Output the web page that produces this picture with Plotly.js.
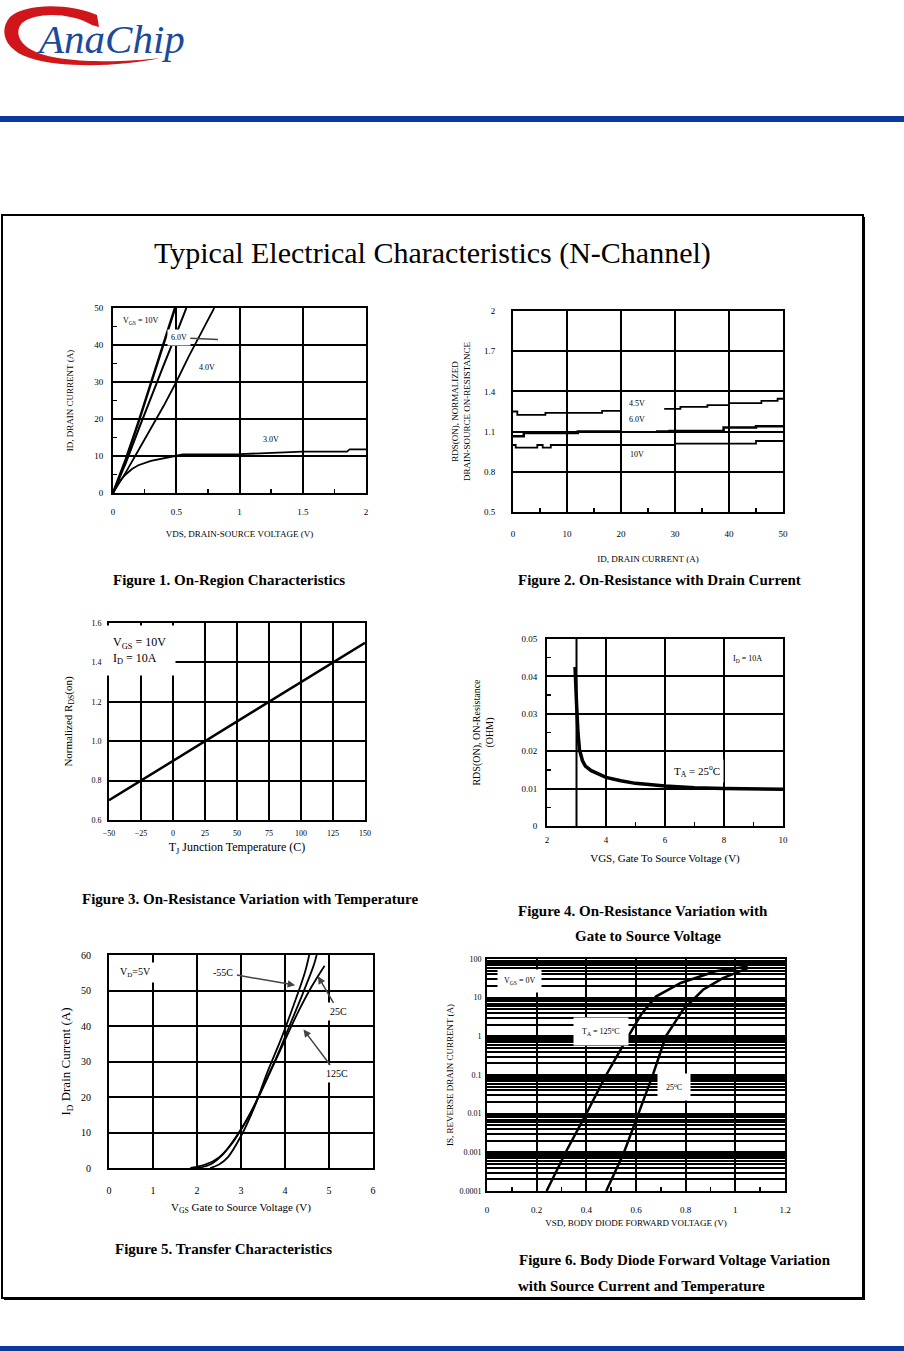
<!DOCTYPE html>
<html><head><meta charset="utf-8">
<script src="https://cdn.plot.ly/plotly-3.0.1.min.js"></script>
<style>html,body{margin:0;padding:0;background:#fff}#chart{width:904px;height:1351px}</style>
</head><body><div id="chart"></div>
<script>
// ---------- Figure 1: On-Region Characteristics ----------
const f1_vds_10V = [0, 0.05, 0.1, 0.2, 0.3, 0.4, 0.49];
const f1_id_10V  = [0, 4.5, 9, 19, 29.5, 40, 50];
const f1_vds_6V  = [0, 0.05, 0.1, 0.2, 0.3, 0.4, 0.5, 0.58];
const f1_id_6V   = [0, 4, 8, 17, 26, 34.5, 43, 50];
const f1_vds_4V  = [0, 0.1, 0.2, 0.3, 0.4, 0.5, 0.6, 0.7, 0.8];
const f1_id_4V   = [0, 5.5, 11.5, 17.5, 23.5, 30, 37, 43.5, 50];
const f1_vds_3V  = [0, 0.03, 0.06, 0.1, 0.15, 0.2, 0.3, 0.4, 0.45, 0.55, 1.0, 1.5, 1.85, 1.87, 2.0];
const f1_id_3V   = [0, 2, 3.5, 5, 6.5, 7.5, 8.7, 9.4, 9.7, 10.4, 10.5, 11.2, 11.2, 11.8, 11.8];

// ---------- Figure 2: On-Resistance with Drain Current ----------
const f2_id_45V = [0, 0.8, 6, 16.5, 20, null, 28, 31, 36, 40, 46, 49, 50];
const f2_r_45V  = [1.25, 1.225, 1.24, 1.255, 1.255, null, 1.27, 1.285, 1.297, 1.313, 1.33, 1.345, 1.345];
const f2_id_6V  = [0, 2, 12, 20, null, 26.5, 29, 39, 45, 50];
const f2_r_6V   = [1.065, 1.09, 1.1, 1.1, null, 1.1, 1.105, 1.13, 1.14, 1.14];
const f2_id_10V = [0, 0.5, 4.5, 5.5, 7, 30, 45, 50];
const f2_r_10V  = [1.0, 0.98, 1.0, 0.98, 1.0, 1.01, 1.03, 1.03];

// ---------- Figure 3: On-Resistance vs Temperature ----------
const f3_temp = [-50, -25, 0, 25, 50, 75, 100, 125, 150];
const f3_rnorm = [0.7, 0.8, 0.9, 1.0, 1.1, 1.2, 1.3, 1.4, 1.5];

// ---------- Figure 4: On-Resistance vs Gate Voltage ----------
const f4_vgs = [2.95, 2.97, 3.0, 3.05, 3.1, 3.2, 3.3, 3.5, 3.75, 4, 4.5, 5, 6, 7, 8, 9, 10];
const f4_rds = [0.0425, 0.037, 0.033, 0.025, 0.0205, 0.0175, 0.016, 0.0148, 0.0138, 0.013, 0.0121, 0.0114, 0.0107, 0.0102, 0.0100, 0.0099, 0.0098];

// ---------- Figure 5: Transfer Characteristics ----------
const f5_vgs_m55 = [2.3, 2.5, 2.7, 3.0, 3.3, 3.6, 3.9, 4.2, 4.45, 4.55];
const f5_id_m55  = [0, 1, 3, 9, 17, 27, 36, 46, 55, 60];
const f5_vgs_25  = [2.0, 2.3, 2.6, 2.9, 3.2, 3.5, 3.8, 4.1, 4.4, 4.65, 4.72];
const f5_id_25   = [0, 1, 4, 9, 15, 23, 31, 40, 49, 57, 60];
const f5_vgs_125 = [1.85, 2.2, 2.5, 2.8, 3.1, 3.4, 3.7, 4.0, 4.3, 4.6, 4.9];
const f5_id_125  = [0, 1, 3, 7, 13, 20, 28, 36, 44, 51, 57];

// ---------- Figure 6: Body Diode Forward Voltage ----------
const f6_vsd_125 = [0.24, 0.32, 0.40, 0.48, 0.56, 0.62, 0.68, 0.78, 0.92, 1.05];
const f6_is_125  = [0.0001, 0.0011, 0.01, 0.1, 0.8, 3.6, 10.7, 24, 48, 64];
const f6_vsd_25  = [0.48, 0.55, 0.61, 0.67, 0.72, 0.79, 0.87, 0.95, 1.05];
const f6_is_25   = [0.0001, 0.00093, 0.01, 0.11, 1.0, 4.9, 16, 32, 58];
const f6_decades = [0.0001, 0.001, 0.01, 0.1, 1, 10, 100];
const f6_decade_labels = ['0.0001', '0.001', '0.01', '0.1', '1', '10', '100'];

const W = 904, H = 1351;
const F = 'Liberation Serif, Times New Roman, serif';
const xd = (l, r) => [l / W, r / W];
const yd = (t, b) => [1 - b / H, 1 - t / H];
const px = x => x / W;
const py = y => 1 - y / H;

function axis(extra) {
  return Object.assign({
    showline: true, linecolor: '#000', linewidth: 2, mirror: true,
    showgrid: true, gridcolor: '#000', gridwidth: 2, zeroline: false,
    ticks: 'inside', ticklen: 4, tickwidth: 1.5, tickcolor: '#000',
    tickfont: {family: F, size: 9, color: '#000'},
    fixedrange: true, automargin: false
  }, extra);
}
function ttl(text, size, standoff) {
  return {text: text, font: {family: F, size: size, color: '#000'}, standoff: standoff};
}

// intermediate digits of each decade: minor grid lines of the log axis
const f6_minorvals = [];
f6_decades.slice(0, -1).forEach(d => { for (let k = 2; k <= 9; k++) f6_minorvals.push(d * k); });

const line = (w) => ({color: '#000', width: w});
const traces = [
  {x: f1_vds_10V, y: f1_id_10V, xaxis: 'x', yaxis: 'y', mode: 'lines', line: line(2.5), name: '10V'},
  {x: f1_vds_6V, y: f1_id_6V, xaxis: 'x', yaxis: 'y', mode: 'lines', line: line(2), name: '6.0V'},
  {x: f1_vds_4V, y: f1_id_4V, xaxis: 'x', yaxis: 'y', mode: 'lines', line: line(1.8), name: '4.0V'},
  {x: f1_vds_3V, y: f1_id_3V, xaxis: 'x', yaxis: 'y', mode: 'lines', line: line(1.8), name: '3.0V'},

  {x: f2_id_45V, y: f2_r_45V, xaxis: 'x2', yaxis: 'y2', mode: 'lines', line: Object.assign(line(1.8), {shape: 'hv'}), connectgaps: false, name: '4.5V'},
  {x: f2_id_6V, y: f2_r_6V, xaxis: 'x2', yaxis: 'y2', mode: 'lines', line: Object.assign(line(2.5), {shape: 'hv'}), connectgaps: false, name: '6.0V'},
  {x: f2_id_10V, y: f2_r_10V, xaxis: 'x2', yaxis: 'y2', mode: 'lines', line: Object.assign(line(1.8), {shape: 'hv'}), name: '10V'},

  {x: f3_temp, y: f3_rnorm, xaxis: 'x3', yaxis: 'y3', mode: 'lines', line: line(2.5), name: 'Rnorm'},

  {x: f4_vgs, y: f4_rds, xaxis: 'x4', yaxis: 'y4', mode: 'lines', line: line(3.5), name: 'RDS'},

  {x: f5_vgs_m55, y: f5_id_m55, xaxis: 'x5', yaxis: 'y5', mode: 'lines', line: Object.assign(line(1.8), {shape: 'spline'}), name: '-55C'},
  {x: f5_vgs_25, y: f5_id_25, xaxis: 'x5', yaxis: 'y5', mode: 'lines', line: Object.assign(line(1.8), {shape: 'spline'}), name: '25C'},
  {x: f5_vgs_125, y: f5_id_125, xaxis: 'x5', yaxis: 'y5', mode: 'lines', line: Object.assign(line(1.8), {shape: 'spline'}), name: '125C'},

  {x: f6_vsd_125, y: f6_is_125, xaxis: 'x6', yaxis: 'y6', mode: 'lines', line: line(2.5), name: '125C'},
  {x: f6_vsd_25, y: f6_is_25, xaxis: 'x6', yaxis: 'y6', mode: 'lines', line: line(2.5), name: '25C'}
];

const layout = {
  width: W, height: H, showlegend: false,
  margin: {l: 0, r: 0, t: 0, b: 0},
  paper_bgcolor: '#fff', plot_bgcolor: 'rgba(0,0,0,0)',
  font: {family: F, color: '#000'},

  // Figure 1
  xaxis: axis({domain: xd(113, 366), anchor: 'y', range: [0, 2], dtick: 0.5, ticklabelstandoff: 9,
    minor: {dtick: 0.25, ticks: 'inside', ticklen: 4, tickcolor: '#000', showgrid: false},
    title: ttl('VDS, DRAIN-SOURCE VOLTAGE (V)', 9, 15)}),
  yaxis: axis({domain: yd(308, 493), anchor: 'x', range: [0, 50], dtick: 10, ticklabelstandoff: 6,
    minor: {dtick: 5, ticks: 'inside', ticklen: 4, tickcolor: '#000', showgrid: false},
    title: ttl('ID, DRAIN CURRENT (A)', 9, 19)}),

  // Figure 2
  xaxis2: axis({domain: xd(513, 783), anchor: 'y2', range: [0, 50], dtick: 10, ticklabelstandoff: 12,
    minor: {dtick: 5, ticks: 'inside', ticklen: 4, tickcolor: '#000', showgrid: false},
    title: ttl('ID, DRAIN CURRENT (A)', 9, 18)}),
  yaxis2: axis({domain: yd(311, 512), anchor: 'x2', range: [0.5, 2], tick0: 0.5, dtick: 0.3, ticklabelstandoff: 14,
    title: ttl('RDS(ON), NORMALIZED<br>DRAIN-SOURCE ON-RESISTANCE', 9, 12)}),

  // Figure 3
  xaxis3: axis({domain: xd(109, 365), anchor: 'y3', range: [-50, 150], dtick: 25, ticklabelstandoff: 4,
    tickfont: {family: F, size: 8, color: '#000'},
    title: ttl('T<sub>J</sub> Junction Temperature (C)', 12, 6)}),
  yaxis3: axis({domain: yd(623, 820), anchor: 'x3', range: [0.6, 1.6], dtick: 0.2, tickformat: '.1f', ticklabelstandoff: 4,
    tickfont: {family: F, size: 8, color: '#000'},
    title: ttl('Normalized R<sub>DS</sub>(on)', 11, 17)}),

  // Figure 4
  xaxis4: axis({domain: xd(547, 783), anchor: 'y4', range: [2, 10], dtick: 2, ticklabelstandoff: 4,
    minor: {dtick: 1, ticks: 'inside', ticklen: 4, tickcolor: '#000', showgrid: false},
    title: ttl('VGS, Gate To Source Voltage (V)', 11, 11)}),
  yaxis4: axis({domain: yd(639, 826), anchor: 'x4', range: [0, 0.05], dtick: 0.01, ticklabelstandoff: 6,
    minor: {dtick: 0.005, ticks: 'inside', ticklen: 4, tickcolor: '#000', showgrid: false},
    title: ttl('RDS(ON), ON-Resistance<br>(OHM)', 10, 26)}),

  // Figure 5
  xaxis5: axis({domain: xd(109, 373), anchor: 'y5', range: [0, 6], dtick: 1, ticklabelstandoff: 12,
    tickfont: {family: F, size: 10, color: '#000'},
    title: ttl('V<sub>GS</sub> Gate to Source Voltage (V)', 11, 8)}),
  yaxis5: axis({domain: yd(955, 1168), anchor: 'x5', range: [0, 60], dtick: 10, ticklabelstandoff: 14,
    tickfont: {family: F, size: 10, color: '#000'},
    title: ttl('I<sub>D</sub> Drain Current (A)', 13, 7)}),

  // Figure 6
  xaxis6: axis({domain: xd(487, 785), anchor: 'y6', range: [0, 1.2], dtick: 0.2, ticklabelstandoff: 9,
    minor: {dtick: 0.1, ticks: 'inside', ticklen: 4, tickcolor: '#000', showgrid: false},
    title: ttl('VSD, BODY DIODE FORWARD VOLTAGE (V)', 9, 6)}),
  yaxis6: axis({domain: yd(959, 1191), anchor: 'x6', type: 'log', range: [-4, 2],
    tickmode: 'array', tickvals: f6_decades, ticktext: f6_decade_labels, ticklabelstandoff: 2, ticks: '',
    tickfont: {family: F, size: 8, color: '#000'},
    minor: {tickmode: 'array', tickvals: f6_minorvals, showgrid: true, gridcolor: '#000', gridwidth: 2, ticks: ''},
    title: ttl('IS, REVERSE DRAIN CURRENT (A)', 9, 4)}),

  shapes: [],
  annotations: []
};

// page decorations
layout.shapes.push(
  {type: 'rect', xref: 'paper', yref: 'paper', x0: 0, x1: 1, y0: py(122), y1: py(116), fillcolor: '#0a3a9e', line: {width: 0}},
  {type: 'rect', xref: 'paper', yref: 'paper', x0: 0, x1: 1, y0: py(1351), y1: py(1346), fillcolor: '#0a3a9e', line: {width: 0}},
  {type: 'rect', xref: 'paper', yref: 'paper', x0: px(2), x1: px(863), y0: py(1298), y1: py(215), line: {color: '#000', width: 2}},
  {type: 'line', xref: 'paper', yref: 'paper', x0: px(864), x1: px(864), y0: py(1299), y1: py(217), line: {color: '#000', width: 2}},
  {type: 'line', xref: 'paper', yref: 'paper', x0: px(4), x1: px(865), y0: py(1299), y1: py(1299), line: {color: '#000', width: 2}},
  // extra grid line at VGS = 3 in figure 4
  {type: 'line', xref: 'x4', yref: 'y4 domain', x0: 3, x1: 3, y0: 0, y1: 1, line: {color: '#000', width: 2}, layer: 'below'}
);
// logo swoosh (pixel coordinates converted to paper)
function P(pts) { return pts.map(p => (typeof p === 'string') ? p : (px(p[0]) + ',' + py(p[1]))).join(' '); }
layout.shapes.push({
  type: 'path', xref: 'paper', yref: 'paper', fillcolor: '#d0161b', line: {width: 0},
  path: P(['M', [97, 15], 'C', [70, 3], [25, 3], [10, 17], 'C', [-2, 31], [5, 50], [30, 58],
           'C', [60, 68], [120, 67], [160, 58],
           'C', [120, 63], [60, 63], [36, 52], 'C', [19, 45], [14, 32], [22, 23],
           'C', [35, 12], [70, 12], [92, 25], 'L', [99, 27], 'Z'])
});

const ann = (x, y, xr, yr, text, size, extra) => Object.assign({
  x: x, y: y, xref: xr, yref: yr, text: text, showarrow: false,
  xanchor: 'center', yanchor: 'middle',
  font: {family: F, size: size, color: '#000'}
}, extra || {});
const wb = {bgcolor: '#fff', borderpad: 3};

layout.annotations.push(
  // logo text
  ann(px(110), py(39), 'paper', 'paper', 'AnaChip', 41, {font: {family: F, size: 41, color: '#1b4a9c', style: 'italic'}}),
  // main title
  ann(px(432), py(253), 'paper', 'paper', 'Typical Electrical Characteristics (N-Channel)', 30),
  // captions
  ann(px(229), py(580), 'paper', 'paper', '<b>Figure 1. On-Region Characteristics</b>', 15),
  ann(px(659), py(580), 'paper', 'paper', '<b>Figure 2. On-Resistance with Drain Current</b>', 15),
  ann(px(250), py(899), 'paper', 'paper', '<b>Figure 3. On-Resistance Variation with Temperature</b>', 15),
  ann(px(643), py(911), 'paper', 'paper', '<b>Figure 4. On-Resistance Variation with</b>', 15),
  ann(px(648), py(936), 'paper', 'paper', '<b>Gate to Source Voltage</b>', 15),
  ann(px(223), py(1249), 'paper', 'paper', '<b>Figure 5. Transfer Characteristics</b>', 15),
  ann(px(675), py(1260), 'paper', 'paper', '<b>Figure 6. Body Diode Forward Voltage Variation</b>', 15),
  ann(px(641), py(1286), 'paper', 'paper', '<b>with Source Current and Temperature</b>', 15),

  // figure 1 labels
  ann(0.22, 46.5, 'x', 'y', 'V<sub>GS</sub> = 10V', 8, wb),
  ann(0.83, 41.5, 'x', 'y', '6.0V', 8, Object.assign({showarrow: true, arrowhead: 0, arrowwidth: 1.5, ax: 0.52, ay: 42, axref: 'x', ayref: 'y'}, wb)),
  ann(0.74, 34, 'x', 'y', '4.0V', 8),
  ann(1.25, 14.5, 'x', 'y', '3.0V', 8, wb),

  // figure 2 labels
  ann(23, 1.31, 'x2', 'y2', '4.5V', 8, wb),
  ann(23, 1.19, 'x2', 'y2', '6.0V', 8, wb),
  ann(23, 0.93, 'x2', 'y2', '10V', 8, wb),

  // figure 3 labels
  ann(-26, 1.46, 'x3', 'y3', 'V<sub>GS</sub> = 10V<br>I<sub>D</sub> = 10A', 12, {bgcolor: '#fff', borderpad: 9, align: 'left'}),

  // figure 4 labels
  ann(8.8, 0.0446, 'x4', 'y4', 'I<sub>D</sub> = 10A', 8, wb),
  ann(7.1, 0.0148, 'x4', 'y4', 'T<sub>A</sub> = 25<sup>o</sup>C', 11, wb),

  // figure 5 labels
  ann(0.6, 55, 'x5', 'y5', 'V<sub>D</sub>=5V', 10, wb),
  ann(4.23, 51.5, 'x5', 'y5', '-55C', 10, Object.assign({showarrow: true, arrowhead: 2, arrowwidth: 1.5, ax: 2.6, ay: 55, axref: 'x5', ayref: 'y5'}, wb)),
  ann(4.75, 54, 'x5', 'y5', '25C', 10, Object.assign({showarrow: true, arrowhead: 2, arrowwidth: 1.5, ax: 5.22, ay: 44, axref: 'x5', ayref: 'y5'}, wb)),
  ann(4.42, 39, 'x5', 'y5', '125C', 10, Object.assign({showarrow: true, arrowhead: 2, arrowwidth: 1.5, ax: 5.18, ay: 26.5, axref: 'x5', ayref: 'y5'}, wb)),

  // figure 6 labels (log axis: y given as log10)
  ann(0.13, 1.42, 'x6', 'y6', 'V<sub>GS</sub> = 0V', 8, {bgcolor: '#fff', borderpad: 6}),
  ann(0.46, 0.12, 'x6', 'y6', 'T<sub>A</sub> = 125<sup>o</sup>C', 8, {bgcolor: '#fff', borderpad: 8}),
  ann(0.755, -1.3, 'x6', 'y6', '25<sup>o</sup>C', 8, {bgcolor: '#fff', borderpad: 8})
);

Plotly.newPlot('chart', traces, layout, {staticPlot: true, displayModeBar: false});
</script>
</body></html>
